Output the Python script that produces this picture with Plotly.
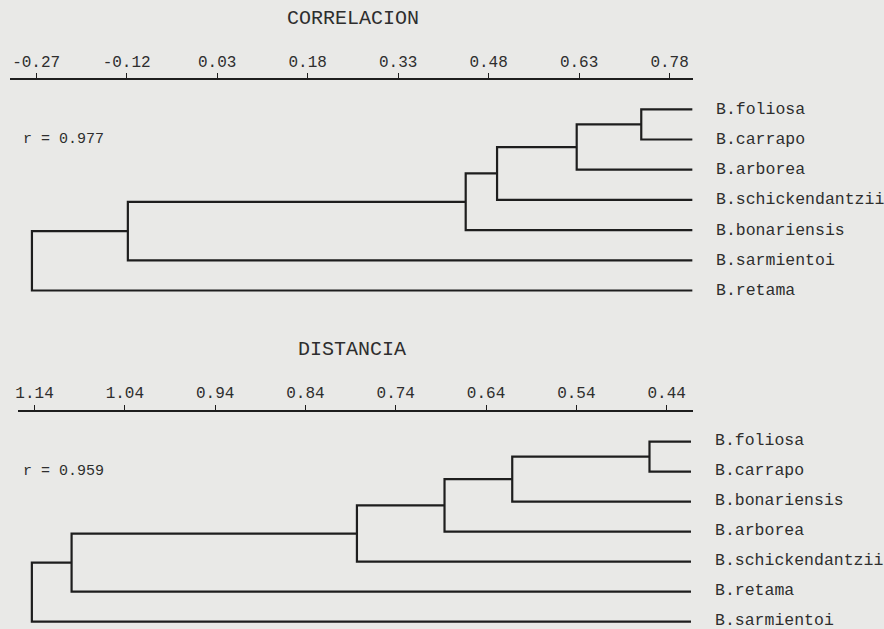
import plotly.graph_objects as go

# ---------------- data ----------------
corr_leaves = ["B.foliosa", "B.carrapo", "B.arborea", "B.schickendantzii",
               "B.bonariensis", "B.sarmientoi", "B.retama"]
corr_join_a = [0, 7, 8, 9, 10, 11]
corr_join_b = [1, 2, 3, 4, 5, 6]
corr_join_level = [0.733, 0.626, 0.494, 0.442, -0.118, -0.277]
corr_leaf_level = 0.818
corr_ticks = [-0.27, -0.12, 0.03, 0.18, 0.33, 0.48, 0.63, 0.78]
corr_r = "r = 0.977"

dist_leaves = ["B.foliosa", "B.carrapo", "B.bonariensis", "B.arborea",
               "B.schickendantzii", "B.retama", "B.sarmientoi"]
dist_join_a = [0, 7, 8, 9, 10, 11]
dist_join_b = [1, 2, 3, 4, 5, 6]
dist_join_level = [0.459, 0.611, 0.686, 0.783, 1.099, 1.143]
dist_leaf_level = 0.413
dist_ticks = [1.14, 1.04, 0.94, 0.84, 0.74, 0.64, 0.54, 0.44]
dist_r = "r = 0.959"

# ---------------- helpers ----------------
W, H = 884, 629
INK = "#1e1e1e"
TXT = "#2e2e2e"
BG = "#e9e9e7"
MONO = "Liberation Mono, monospace"


def dendro_path(n_leaves, ja, jb, lev, leaf_level):
    xs = {i: leaf_level for i in range(n_leaves)}
    ys = {i: float(i) for i in range(n_leaves)}
    px, py = [], []
    for k, (a, b, h) in enumerate(zip(ja, jb, lev)):
        node = n_leaves + k
        px += [xs[a], h, h, xs[b], None]
        py += [ys[a], ys[a], ys[b], ys[b], None]
        xs[node] = h
        ys[node] = (ys[a] + ys[b]) / 2
    return px, py


fig = go.Figure()

cx, cy = dendro_path(len(corr_leaves), corr_join_a, corr_join_b, corr_join_level, corr_leaf_level)
fig.add_trace(go.Scatter(x=cx, y=cy, mode="lines", line=dict(color=INK, width=2.2),
                         xaxis="x", yaxis="y", hoverinfo="skip", cliponaxis=False,
                         showlegend=False))
dx, dy = dendro_path(len(dist_leaves), dist_join_a, dist_join_b, dist_join_level, dist_leaf_level)
fig.add_trace(go.Scatter(x=dx, y=dy, mode="lines", line=dict(color=INK, width=2.2),
                         xaxis="x2", yaxis="y2", hoverinfo="skip", cliponaxis=False,
                         showlegend=False))

annotations = []
for i, name in enumerate(corr_leaves):
    annotations.append(dict(x=corr_leaf_level, y=i, xref="x", yref="y", text=name,
                            showarrow=False, xanchor="left", yanchor="middle", xshift=21,
                            font=dict(family=MONO, size=16.5, color=TXT)))
for i, name in enumerate(dist_leaves):
    annotations.append(dict(x=dist_leaf_level, y=i, xref="x2", yref="y2", text=name,
                            showarrow=False, xanchor="left", yanchor="middle", xshift=22,
                            yshift=1, font=dict(family=MONO, size=16.5, color=TXT)))

annotations += [
    dict(x=351 / W, y=1 - 18.5 / H, xref="paper", yref="paper", text="CORRELACION",
         showarrow=False, xanchor="center", yanchor="middle",
         font=dict(family=MONO, size=20, color=TXT)),
    dict(x=350 / W, y=1 - 350 / H, xref="paper", yref="paper", text="DISTANCIA",
         showarrow=False, xanchor="center", yanchor="middle",
         font=dict(family=MONO, size=20, color=TXT)),
    dict(x=18 / W, y=1 - 139 / H, xref="paper", yref="paper", text=corr_r,
         showarrow=False, xanchor="left", yanchor="middle",
         font=dict(family=MONO, size=15, color=TXT)),
    dict(x=18 / W, y=1 - 471 / H, xref="paper", yref="paper", text=dist_r,
         showarrow=False, xanchor="left", yanchor="middle",
         font=dict(family=MONO, size=15, color=TXT)),
]

axis_common = dict(side="top", anchor="free", showline=True, linewidth=2.2, linecolor=INK,
                   ticks="outside", ticklen=5, tickwidth=1.3, tickcolor=INK,
                   showgrid=False, zeroline=False, tickmode="array",
                   tickfont=dict(family=MONO, size=16, color=TXT))

fig.update_layout(
    width=W, height=H,
    margin=dict(l=0, r=0, t=0, b=0),
    paper_bgcolor=BG, plot_bgcolor=BG,
    xaxis=dict(domain=[7 / W, 692 / W], range=[-0.3134, 0.8182], position=1 - 79.3 / H,
               tickvals=corr_ticks, ticktext=[f"{v:.2f}" for v in corr_ticks], **axis_common),
    xaxis2=dict(domain=[15 / W, 692 / W], range=[1.1584, 0.4112], position=1 - 410.7 / H,
                tickvals=dist_ticks, ticktext=[f"{v:.2f}" for v in dist_ticks], **axis_common),
    yaxis=dict(domain=[0.5, 1], range=[6.795, -3.619], visible=False, anchor="x"),
    yaxis2=dict(domain=[0, 0.5], range=[6.243, -4.24], visible=False, anchor="x2"),
    annotations=annotations,
)

fig.write_html("out.html", config={"displayModeBar": False},
               post_script="document.body.style.margin='0';document.body.style.overflow='hidden';")
